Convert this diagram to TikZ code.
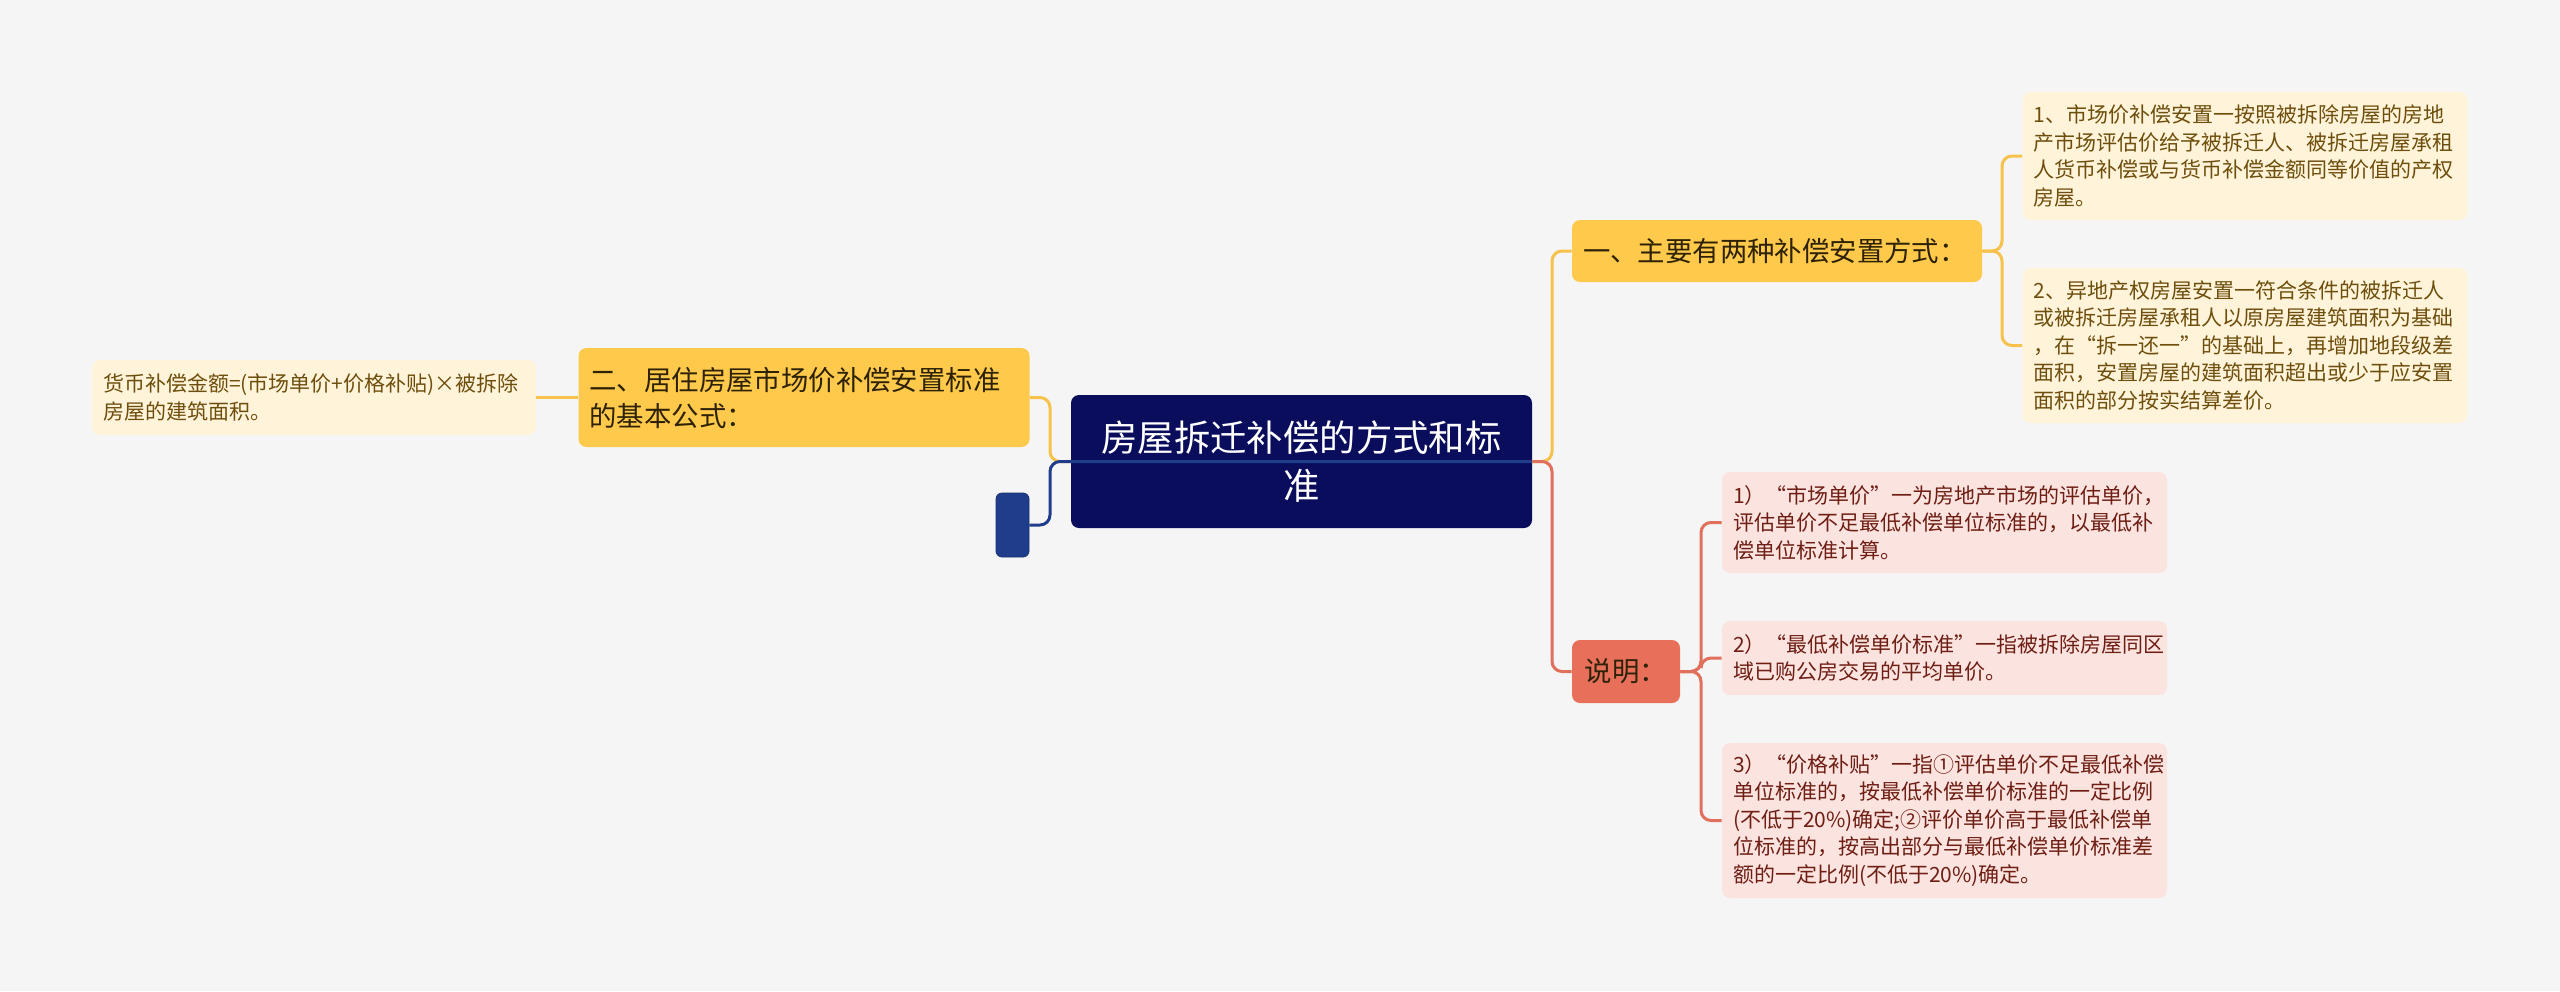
\documentclass[tikz,border=0pt]{standalone}
\usepackage{fontspec}
\setmainfont{Noto Sans CJK SC}
\usetikzlibrary{calc}
\definecolor{bgcol}{HTML}{F5F5F5}
\definecolor{rootcol}{HTML}{0A0D5C}
\definecolor{navycol}{HTML}{1F3D8A}
\definecolor{yelcol}{HTML}{FFC94B}
\definecolor{creamcol}{HTML}{FFF4DA}
\definecolor{redcol}{HTML}{E8705B}
\definecolor{pinkcol}{HTML}{FBE4DF}
\definecolor{ylinecol}{HTML}{F7C24C}
\definecolor{rlinecol}{HTML}{E06F5C}
\definecolor{browntxt}{HTML}{6E4E0C}
\definecolor{redtxt}{HTML}{6E1E14}
\definecolor{darktxt}{HTML}{2E2206}
\begin{document}
\begin{tikzpicture}[x=0.5pt,y=-0.5pt]
  \tikzstyle{box} = [rectangle,rounded corners=4pt,inner xsep=5.5pt,inner ysep=0pt,align=left]
  \tikzstyle{topic} = [box,fill=yelcol,text=darktxt,font=\fontsize{13.7pt}{18pt}\selectfont]
  \tikzstyle{leaf} = [box,minimum width=222.5pt,text width=211.5pt,font=\fontsize{10.5pt}{13.75pt}\selectfont]
  \tikzstyle{yleaf} = [leaf,fill=creamcol,text=browntxt]
  \tikzstyle{rleaf} = [leaf,fill=pinkcol,text=redtxt]

  \tikzstyle{link} = [line width=1.5pt,rounded corners=5pt]
  \tikzstyle{ylink} = [link,draw=ylinecol]
  \tikzstyle{rlink} = [link,draw=rlinecol]
  \tikzstyle{blink} = [link,draw=navycol]

  \fill[bgcol] (0,0) rectangle (2560,991);
  \useasboundingbox (0,0) rectangle (2560,991);

  % centre
  \node[rectangle,rounded corners=4pt,fill=rootcol,text=white,align=center,
    minimum width=230.5pt,minimum height=66.5pt,
    font=\fontsize{18.2pt}{24pt}\selectfont,name=root] at (1301.5,461.5)
    {房屋拆迁补偿的方式和标\\准};

  % left side
  \node[topic,minimum width=225.5pt,minimum height=49.5pt,text width=214.5pt,
    name=lbox] at (804,397.5) {二、居住房屋市场价补偿安置标准\\的基本公式：};
  \node[yleaf,minimum width=222pt,text width=211pt,minimum height=37.5pt,
    name=lleaf] at (314,397.5)
    {货币补偿金额=(市场单价+价格补贴)×被拆除\\房屋的建筑面积。};
  \node[rectangle,rounded corners=3pt,fill=navycol,draw=navycol!80!black,
    minimum width=16.5pt,minimum height=32pt,name=navy] at (1012.5,525) {};

  % right side
  \node[topic,minimum width=205pt,minimum height=31pt,text width=194pt,
    name=ybox] at (1777,251) {一、主要有两种补偿安置方式：};
  \node[topic,fill=redcol,text=darktxt,minimum width=54pt,minimum height=31.5pt,
    name=rbox] at (1626,671.5) {说明：};

  \node[yleaf,minimum height=64pt,name=yl1] at (2245,156)
    {1、市场价补偿安置一按照被拆除房屋的房地\\产市场评估价给予被拆迁人、被拆迁房屋承租\\人货币补偿或与货币补偿金额同等价值的产权\\房屋。};
  \node[yleaf,minimum height=77.5pt,name=yl2] at (2245,345.5)
    {2、异地产权房屋安置一符合条件的被拆迁人\\或被拆迁房屋承租人以原房屋建筑面积为基础\\，在“拆一还一”的基础上，再增加地段级差\\面积，安置房屋的建筑面积超出或少于应安置\\面积的部分按实结算差价。};

  \node[rleaf,minimum height=50.5pt,name=rl1] at (1944.5,522.5)
    {1）“市场单价”一为房地产市场的评估单价，\\评估单价不足最低补偿单位标准的，以最低补\\偿单位标准计算。};
  \node[rleaf,minimum height=37pt,name=rl2] at (1944.5,658)
    {2）“最低补偿单价标准”一指被拆除房屋同区\\域已购公房交易的平均单价。};
  \node[rleaf,minimum height=77.5pt,name=rl3] at (1944.5,820.5)
    {3）“价格补贴”一指①评估单价不足最低补偿\\单位标准的，按最低补偿单价标准的一定比例\\(不低于20\%)确定;②评价单价高于最低补偿单\\位标准的，按高出部分与最低补偿单价标准差\\额的一定比例(不低于20\%)确定。};

  % bus points
  \coordinate (lbus) at (1050,461.5);
  \coordinate (rbus) at (1552,461.5);
  \coordinate (ybus) at (2002,251);
  \coordinate (nbus) at (1701,671.5);

  \draw[ylink] (lbox.east) -| (lbus) -- (root.west);
  \draw[blink] (navy.east) -| (lbus) -- (root.east);
  \path (lbox.west) edge[ylink] (lleaf.east);

  \draw[ylink] (root.east) -- (rbus) |- (ybox.west);
  \draw[rlink] (root.east) -- (rbus) |- (rbox.west);

  \draw[ylink] (ybox.east) -- (ybus) |- (yl1.west);
  \draw[ylink] (ybox.east) -- (ybus) |- (yl2.west);

  \draw[rlink] (rbox.east) -- (nbus) |- (rl1.west);
  \draw[rlink] (rbox.east) -- (nbus) |- (rl2.west);
  \draw[rlink] (rbox.east) -- (nbus) |- (rl3.west);

\end{tikzpicture}
\end{document}
